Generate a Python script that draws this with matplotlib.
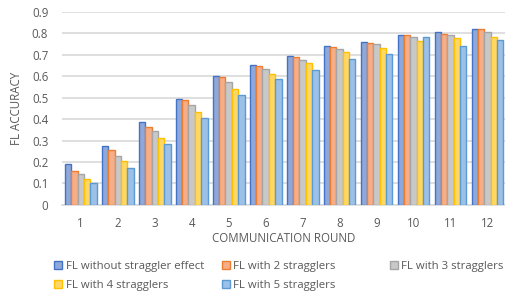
import numpy as np
import matplotlib.pyplot as plt

plt.rcParams['font.family'] = ['Open Sans', 'DejaVu Sans']

rounds = [str(i) for i in range(1, 13)]
series_names = ["FL without straggler effect", "FL with 2 stragglers",
                "FL with 3 stragglers", "FL with 4 stragglers",
                "FL with 5 stragglers"]
no_straggler = [0.19, 0.277, 0.386, 0.492, 0.603, 0.653, 0.695, 0.741, 0.759, 0.794, 0.804, 0.818]
stragglers_2 = [0.16, 0.254, 0.361, 0.489, 0.595, 0.650, 0.688, 0.738, 0.754, 0.791, 0.796, 0.818]
stragglers_3 = [0.142, 0.23, 0.346, 0.466, 0.575, 0.634, 0.676, 0.729, 0.749, 0.785, 0.794, 0.808]
stragglers_4 = [0.123, 0.206, 0.312, 0.433, 0.542, 0.612, 0.660, 0.715, 0.732, 0.766, 0.777, 0.785]
stragglers_5 = [0.104, 0.17, 0.285, 0.403, 0.514, 0.587, 0.631, 0.679, 0.703, 0.785, 0.743, 0.771]

data = [no_straggler, stragglers_2, stragglers_3, stragglers_4, stragglers_5]
fills = ["#8FA8DA", "#F5AE88", "#C8C8C8", "#FFD766", "#9CC0E6"]
edges = ["#4472C4", "#ED7D31", "#A5A5A5", "#FFC000", "#5B9BD5"]

fig = plt.figure(figsize=(5.06, 2.97), dpi=100)
ax = fig.add_axes([0.123, 0.31, 0.877, 0.65])

x = np.arange(len(rounds))
w = 0.172
handles = []
for i, vals in enumerate(data):
    b = ax.bar(x + (i - 2) * w, vals, w, color=fills[i], edgecolor=edges[i],
               linewidth=1.0, zorder=3, label=series_names[i])
    handles.append(b)

ax.set_xlim(-0.5, len(rounds) - 0.5)
ax.set_ylim(0, 0.9)
ax.set_yticks(np.arange(0, 0.91, 0.1))
ax.set_yticklabels(["0"] + ["%.1f" % v for v in np.arange(0.1, 0.91, 0.1)])
ax.set_xticks(x)
ax.set_xticklabels(rounds)
ax.yaxis.grid(True, color="#D9D9D9", linewidth=1.2, zorder=0)
for s in ["top", "right", "left"]:
    ax.spines[s].set_visible(False)
ax.spines["bottom"].set_color("#D9D9D9")
ax.spines["bottom"].set_linewidth(1.2)
ax.tick_params(length=0, labelsize=8.3, colors="#595959")
ax.tick_params(axis="y", pad=10)
ax.tick_params(axis="x", pad=9)
ax.set_xlabel("COMMUNICATION ROUND", fontsize=8.3, color="#595959", labelpad=1)
ax.set_ylabel("FL ACCURACY", fontsize=8.3, color="#595959")
ax.yaxis.set_label_coords(-0.088, 0.5)

# legend: three columns at fixed positions, filled row-wise
cols = [[0, 3], [1, 4], [2]]
col_x = [0.107, 0.438, 0.77]
for cx, idx in zip(col_x, cols):
    fig.legend([handles[i] for i in idx], [series_names[i] for i in idx],
               loc="upper left", bbox_to_anchor=(cx, 0.12),
               frameon=False, fontsize=8.2, labelcolor="#595959",
               handlelength=0.7, handleheight=0.7, handletextpad=0.3,
               labelspacing=0.65, borderpad=0, borderaxespad=0)

fig.savefig("out.png", dpi=100)
